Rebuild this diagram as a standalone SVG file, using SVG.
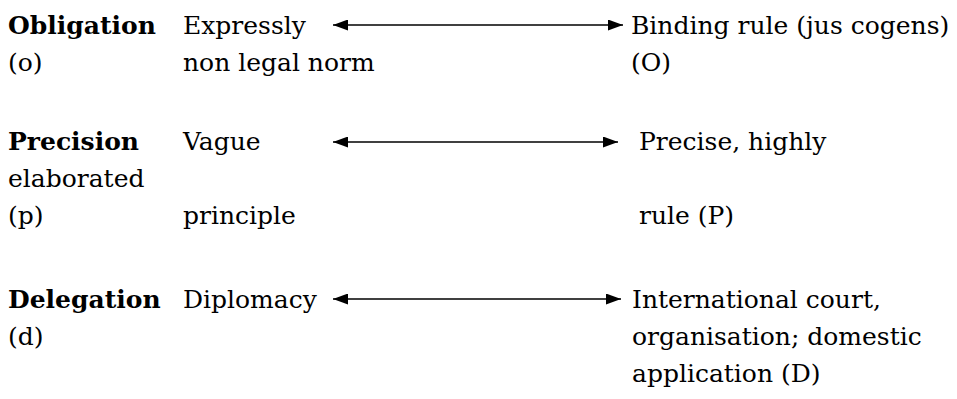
<svg xmlns="http://www.w3.org/2000/svg" width="957" height="399" viewBox="0 0 957 399">
<style>
text{font-family:"DejaVu Serif","Liberation Serif",serif;font-size:25px;fill:#000}
.b{font-weight:bold}
.c{stroke:#000;stroke-width:1.5;fill:none}
</style>
<defs>
<marker id="ah" viewBox="0 0 10 10" refX="10" refY="5" markerWidth="15" markerHeight="11" markerUnits="userSpaceOnUse" orient="auto-start-reverse" preserveAspectRatio="none"><path d="M0,0 L10,5 L0,10 z" fill="#000"/></marker>
</defs>
<rect width="957" height="399" fill="#fff"/>
<g id="obligation">
<text x="8" y="34" class="b">Obligation</text>
<text x="8" y="71">(o)</text>
<text x="183" y="34">Expressly</text>
<text x="183" y="71">non legal norm</text>
<text x="631" y="34">Binding rule (jus cogens)</text>
<text x="631" y="71">(O)</text>
</g>
<g id="precision">
<text x="8" y="150" class="b">Precision</text>
<text x="8" y="187">elaborated</text>
<text x="8" y="224">(p)</text>
<text x="183" y="150">Vague</text>
<text x="183" y="224">principle</text>
<text x="639" y="150">Precise, highly</text>
<text x="639" y="224">rule (P)</text>
</g>
<g id="delegation">
<text x="8" y="308" class="b">Delegation</text>
<text x="8" y="345">(d)</text>
<text x="183" y="308">Diplomacy</text>
<text x="632" y="308">International court,</text>
<text x="632" y="345">organisation; domestic</text>
<text x="632" y="382">application (D)</text>
</g>
<g id="connectors">
<line class="c" x1="333" y1="25" x2="623" y2="25" marker-start="url(#ah)" marker-end="url(#ah)"/>
<line class="c" x1="333" y1="142" x2="618" y2="142" marker-start="url(#ah)" marker-end="url(#ah)"/>
<line class="c" x1="333" y1="299" x2="621" y2="299" marker-start="url(#ah)" marker-end="url(#ah)"/>
</g>
</svg>
